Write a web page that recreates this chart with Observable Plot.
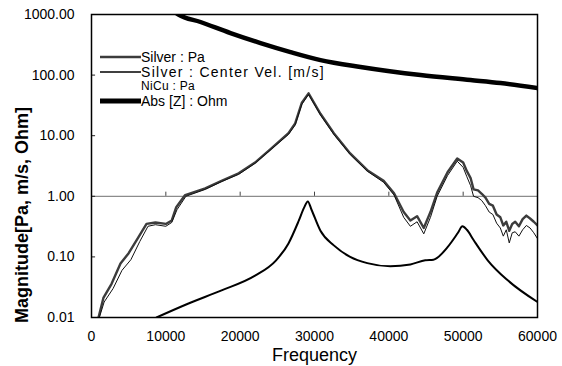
<!DOCTYPE html>
<html>
<head>
<meta charset="utf-8">
<script src="https://cdn.jsdelivr.net/npm/d3@7"></script>
<script src="https://cdn.jsdelivr.net/npm/@observablehq/plot@0.6"></script>
<style>
  html, body { margin: 0; padding: 0; background: #fff; }
  #chart { width: 562px; height: 366px; position: relative; }
  svg { font-family: "Liberation Sans", Arial, sans-serif; }
</style>
</head>
<body>
<div id="chart"></div>
<script>
// ---- data ----
const xTicks = [0, 10000, 20000, 30000, 40000, 50000, 60000];
const yTicks = [0.01, 0.1, 1, 10, 100, 1000];
const legendLabels = ["Silver : Pa", "Silver : Center Vel. [m/s]", "NiCu : Pa", "Abs [Z] : Ohm"];

const silverPaF = [900, 1600, 2700, 3900, 5000, 6300, 7400, 8600, 10000, 10800, 11400, 12600, 15300, 17500, 19800, 22000, 24200, 26500, 27400, 28300, 29200, 30800, 32600, 34800, 37100, 39300, 40700, 42000, 42900, 43800, 44700, 45600, 46500, 47900, 49200, 50000, 50500, 51000, 51400, 52000, 52500, 53000, 53500, 54000, 54500, 55000, 55400, 55800, 56200, 56600, 57000, 57500, 58000, 58500, 59000, 59500, 60000];
const silverPaV = [0.0095, 0.021, 0.036, 0.078, 0.115, 0.21, 0.35, 0.37, 0.35, 0.40, 0.66, 1.05, 1.35, 1.8, 2.4, 3.6, 6.2, 11, 16, 35, 50, 23, 11, 5.1, 2.7, 1.8, 1.12, 0.55, 0.40, 0.47, 0.30, 0.55, 1.15, 2.5, 4.2, 3.6, 2.6, 2.0, 1.3, 1.25, 1.1, 0.95, 0.75, 0.7, 0.5, 0.45, 0.33, 0.38, 0.27, 0.35, 0.38, 0.32, 0.42, 0.48, 0.43, 0.38, 0.33];

const nicuPaF = [1000, 1700, 2900, 4100, 5300, 6500, 7600, 8600, 10000, 10800, 11500, 12700, 15300, 17500, 19800, 22000, 24200, 26500, 27400, 28300, 29200, 30800, 32600, 34800, 37100, 39300, 40700, 42000, 42900, 43800, 44700, 45600, 46500, 47900, 49200, 50000, 50500, 51000, 51400, 52000, 52500, 53000, 53500, 54000, 54500, 55000, 55400, 55800, 56200, 56600, 57000, 57500, 58000, 58500, 59000, 59500, 60000];
const nicuPaV = [0.0095, 0.018, 0.03, 0.06, 0.09, 0.18, 0.32, 0.34, 0.32, 0.37, 0.6, 1.0, 1.3, 1.75, 2.3, 3.5, 6.0, 10.5, 15, 33, 48, 22, 10.5, 4.9, 2.6, 1.7, 1.05, 0.45, 0.32, 0.38, 0.24, 0.45, 1.0, 2.2, 3.8, 3.0, 2.1, 1.5, 1.0, 0.95, 0.85, 0.7, 0.55, 0.5, 0.36, 0.3, 0.22, 0.28, 0.17, 0.25, 0.26, 0.22, 0.28, 0.33, 0.3, 0.25, 0.2];

const velF = [8750, 13050, 17500, 22000, 24800, 26500, 27900, 28600, 29100, 29600, 30800, 32600, 34800, 37100, 40200, 42900, 44900, 46000, 47900, 49300, 49900, 50500, 51400, 53300, 56000, 60000];
const velV = [0.01, 0.017, 0.028, 0.049, 0.087, 0.167, 0.40, 0.65, 0.82, 0.6, 0.27, 0.155, 0.10, 0.079, 0.070, 0.075, 0.088, 0.09, 0.145, 0.25, 0.32, 0.28, 0.19, 0.088, 0.041, 0.018];

const zF = [11000, 11700, 14660, 18700, 22740, 26770, 30810, 36190, 44260, 50990, 55030, 60000];
const zV = [1150, 1000, 752, 494, 338, 240, 177, 136, 100, 83, 74, 61];

const toRows = (F, V) => F.map((f, i) => ({f, v: V[i]}));
const silverPa = toRows(silverPaF, silverPaV);
const nicuPa = toRows(nicuPaF, nicuPaV);
const vel = toRows(velF, velV);
const absZ = toRows(zF, zV);

const font = "'Liberation Sans', Arial, sans-serif";

const chart = Plot.plot({
  width: 562,
  height: 366,
  marginLeft: 91,
  marginRight: 25,
  marginTop: 14,
  marginBottom: 49,
  style: {fontFamily: font, background: "white", color: "black"},
  x: {domain: [0, 60000]},
  y: {type: "log", domain: [0.01, 1000]},
  marks: [
    Plot.ruleY([1], {stroke: "#8c8c8c", strokeWidth: 1.2}),
    Plot.ruleX(xTicks.slice(1, -1), {x: d => d, y1: 1, y2: 1.17, stroke: "#444"}),
    Plot.ruleY(yTicks.slice(1, -1), {y: d => d, x1: 0, x2: 550, stroke: "#222"}),
    Plot.line(silverPa, {x: "f", y: "v", stroke: "#3c3c3c", strokeWidth: 2.4, clip: true, curve: "linear"}),
    Plot.line(nicuPa, {x: "f", y: "v", stroke: "#111", strokeWidth: 1, clip: true, curve: "linear"}),
    Plot.line(vel, {x: "f", y: "v", stroke: "black", strokeWidth: 2, clip: true, curve: "monotone-x"}),
    Plot.line(absZ, {x: "f", y: "v", stroke: "black", strokeWidth: 4.5, clip: true, curve: "monotone-x"}),
    Plot.frame({stroke: "black", strokeWidth: 1.5}),
    Plot.axisY(yTicks, {tickFormat: d => d.toFixed(2), tickSize: 0, tickPadding: 17, fontSize: 14, label: null}),
    Plot.axisX(xTicks, {tickFormat: d => String(d), tickSize: 0, tickPadding: 14, fontSize: 14, label: null}),
    Plot.text(["Frequency"], {frameAnchor: "bottom", dy: 38, lineAnchor: "middle", textAnchor: "middle", fontSize: 18, fill: "black"}),
    Plot.text(["Magnitude[Pa, m/s, Ohm]"], {frameAnchor: "left", dx: -69, dy: 49, rotate: -90, textAnchor: "middle", lineAnchor: "middle", fontSize: 18, fontWeight: "bold", fill: "black"})
  ]
});

document.getElementById("chart").appendChild(chart);

// legend inside the plot, top-left
const svg = d3.select(chart);
const lg = svg.append("g").attr("font-family", font).attr("fill", "black").attr("text-anchor", "start");
const rowY = [57, 72, 86, 101];
const rowSize = [14, 14, 12, 14];
const rowSpacing = [0, 1.3, 0.3, 0];
const sampleStyles = [
  {stroke: "#3c3c3c", width: 2.4},
  {stroke: "black", width: 1.5},
  null,
  {stroke: "black", width: 5}
];
legendLabels.forEach((lab, i) => {
  const s = sampleStyles[i];
  if (s) {
    lg.append("line").attr("x1", 100).attr("x2", 141).attr("y1", rowY[i]).attr("y2", rowY[i])
      .attr("stroke", s.stroke).attr("stroke-width", s.width);
  }
  lg.append("text").attr("x", 141).attr("y", rowY[i]).attr("dy", "0.35em")
    .attr("text-anchor", "start")
    .attr("letter-spacing", rowSpacing[i])
    .attr("font-size", rowSize[i]).text(lab);
});
</script>
</body>
</html>
